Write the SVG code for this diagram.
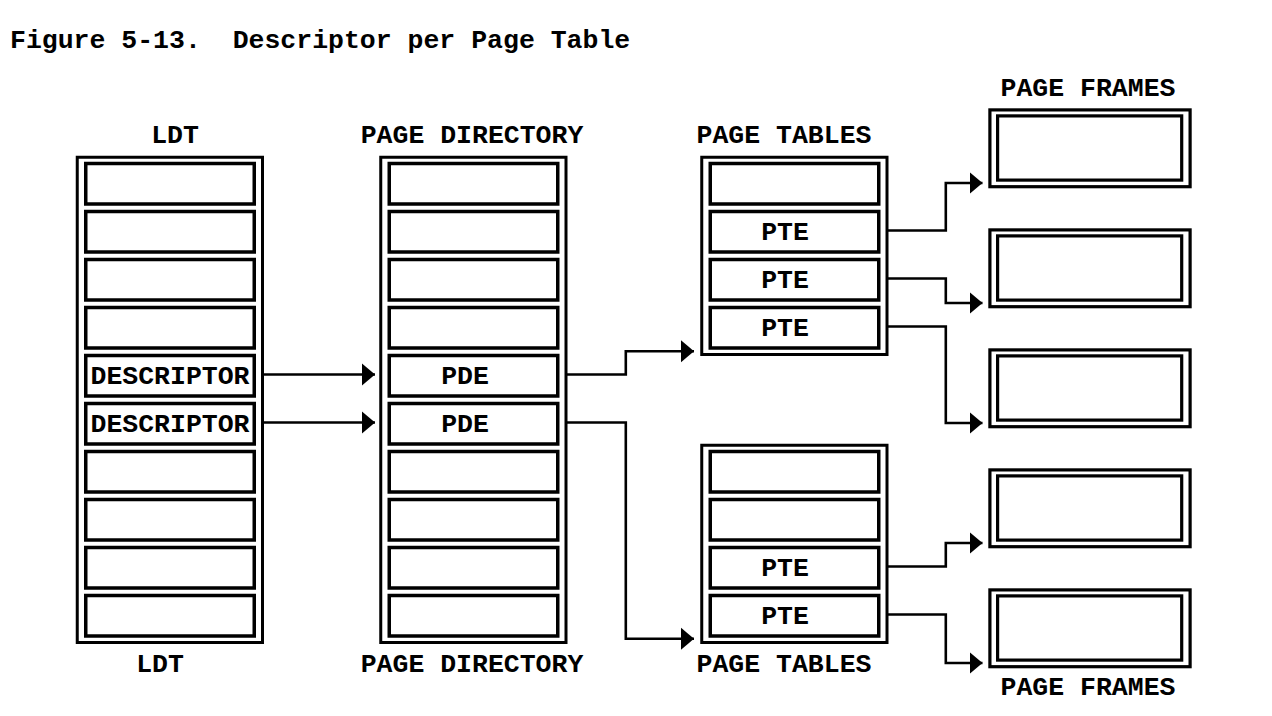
<svg xmlns="http://www.w3.org/2000/svg" width="1272" height="716" viewBox="0 0 1272 716">
<style>
text{font-family:"Liberation Mono","DejaVu Sans Mono",monospace;font-weight:bold;font-size:26.5px;fill:#000}
.m{text-anchor:middle}
.outer{fill:none;stroke:#000;stroke-width:3}
.cell{fill:#fff;stroke:#000;stroke-width:3.5}
.fo{fill:#fff;stroke:#000;stroke-width:3.2}
.fi{fill:none;stroke:#000;stroke-width:3.2}
.conn{fill:none;stroke:#000;stroke-width:2.6;marker-end:url(#ah)}
</style>
<defs>
<marker id="ah" markerUnits="userSpaceOnUse" markerWidth="14" markerHeight="24" refX="13" refY="12" orient="auto" viewBox="0 0 14 24">
<path d="M0,1 L13,12 L0,23 Z" fill="#000"/>
</marker>
</defs>
<rect width="1272" height="716" fill="#fff"/>
<text id="title" x="10" y="48" xml:space="preserve" style="white-space:pre">Figure 5-13.  Descriptor per Page Table</text>

<g id="ldt">
<text class="m" x="175" y="143">LDT</text>
<rect class="outer" x="77.25" y="157.25" width="185.25" height="485.25"/>
<rect class="cell" x="85.75" y="163.5" width="168.5" height="40.5"/>
<rect class="cell" x="85.75" y="211.5" width="168.5" height="40.5"/>
<rect class="cell" x="85.75" y="259.5" width="168.5" height="40.5"/>
<rect class="cell" x="85.75" y="307.5" width="168.5" height="40.5"/>
<rect class="cell" x="85.75" y="355.5" width="168.5" height="40.5"/>
<rect class="cell" x="85.75" y="403.5" width="168.5" height="40.5"/>
<rect class="cell" x="85.75" y="451.5" width="168.5" height="40.5"/>
<rect class="cell" x="85.75" y="499.5" width="168.5" height="40.5"/>
<rect class="cell" x="85.75" y="547.5" width="168.5" height="40.5"/>
<rect class="cell" x="85.75" y="595.5" width="168.5" height="40.5"/>
<text class="m" x="170" y="384">DESCRIPTOR</text>
<text class="m" x="170" y="432">DESCRIPTOR</text>
<text class="m" x="160" y="672">LDT</text>
</g>

<g id="page-directory" transform="translate(303.5,0)">
<text class="m" x="168.5" y="143">PAGE DIRECTORY</text>
<rect class="outer" x="77.25" y="157.25" width="185.25" height="485.25"/>
<rect class="cell" x="85.75" y="163.5" width="168.5" height="40.5"/>
<rect class="cell" x="85.75" y="211.5" width="168.5" height="40.5"/>
<rect class="cell" x="85.75" y="259.5" width="168.5" height="40.5"/>
<rect class="cell" x="85.75" y="307.5" width="168.5" height="40.5"/>
<rect class="cell" x="85.75" y="355.5" width="168.5" height="40.5"/>
<rect class="cell" x="85.75" y="403.5" width="168.5" height="40.5"/>
<rect class="cell" x="85.75" y="451.5" width="168.5" height="40.5"/>
<rect class="cell" x="85.75" y="499.5" width="168.5" height="40.5"/>
<rect class="cell" x="85.75" y="547.5" width="168.5" height="40.5"/>
<rect class="cell" x="85.75" y="595.5" width="168.5" height="40.5"/>
<text class="m" x="161.5" y="384">PDE</text>
<text class="m" x="161.5" y="432">PDE</text>
<text class="m" x="168.5" y="672">PAGE DIRECTORY</text>
</g>

<g id="page-table-1" transform="translate(624.5,0)">
<text class="m" x="159.5" y="143">PAGE TABLES</text>
<rect class="outer" x="77.25" y="157.25" width="185.25" height="197.25"/>
<rect class="cell" x="85.75" y="163.5" width="168.5" height="40.5"/>
<rect class="cell" x="85.75" y="211.5" width="168.5" height="40.5"/>
<rect class="cell" x="85.75" y="259.5" width="168.5" height="40.5"/>
<rect class="cell" x="85.75" y="307.5" width="168.5" height="40.5"/>
<text class="m" x="160.5" y="240">PTE</text>
<text class="m" x="160.5" y="288">PTE</text>
<text class="m" x="160.5" y="336">PTE</text>
</g>

<g id="page-table-2" transform="translate(624.5,0)">
<rect class="outer" x="77.25" y="445.25" width="185.25" height="197.25"/>
<rect class="cell" x="85.75" y="451.5" width="168.5" height="40.5"/>
<rect class="cell" x="85.75" y="499.5" width="168.5" height="40.5"/>
<rect class="cell" x="85.75" y="547.5" width="168.5" height="40.5"/>
<rect class="cell" x="85.75" y="595.5" width="168.5" height="40.5"/>
<text class="m" x="160.5" y="576">PTE</text>
<text class="m" x="160.5" y="624">PTE</text>
<text class="m" x="159.5" y="672">PAGE TABLES</text>
</g>

<text id="pf-label-top" class="m" x="1088" y="96">PAGE FRAMES</text>
<g id="frame-1"><rect class="fo" x="989.9" y="109.9" width="200.2" height="76.8"/><rect class="fi" x="997.6" y="115.9" width="184.1" height="64.2"/></g>
<g id="frame-2" transform="translate(0,120)"><rect class="fo" x="989.9" y="109.9" width="200.2" height="76.8"/><rect class="fi" x="997.6" y="115.9" width="184.1" height="64.2"/></g>
<g id="frame-3" transform="translate(0,240)"><rect class="fo" x="989.9" y="109.9" width="200.2" height="76.8"/><rect class="fi" x="997.6" y="115.9" width="184.1" height="64.2"/></g>
<g id="frame-4" transform="translate(0,360)"><rect class="fo" x="989.9" y="109.9" width="200.2" height="76.8"/><rect class="fi" x="997.6" y="115.9" width="184.1" height="64.2"/></g>
<g id="frame-5" transform="translate(0,480)"><rect class="fo" x="989.9" y="109.9" width="200.2" height="76.8"/><rect class="fi" x="997.6" y="115.9" width="184.1" height="64.2"/></g>
<text id="pf-label-bottom" class="m" x="1088" y="695">PAGE FRAMES</text>

<g id="connectors">
<path class="conn" d="M264,374.5 H375"/>
<path class="conn" d="M264,422.5 H375"/>
<path class="conn" d="M567,374.5 H625.8 V351.3 H694"/>
<path class="conn" d="M567,422.5 H625.8 V638.7 H694"/>
<path class="conn" d="M888,230.5 H945.8 V183 H982.5"/>
<path class="conn" d="M888,278.5 H945.8 V303 H982.5"/>
<path class="conn" d="M888,326.5 H945.8 V423 H982.5"/>
<path class="conn" d="M888,566.5 H945.8 V543 H982.5"/>
<path class="conn" d="M888,614.5 H945.8 V663 H982.5"/>
</g>
</svg>
